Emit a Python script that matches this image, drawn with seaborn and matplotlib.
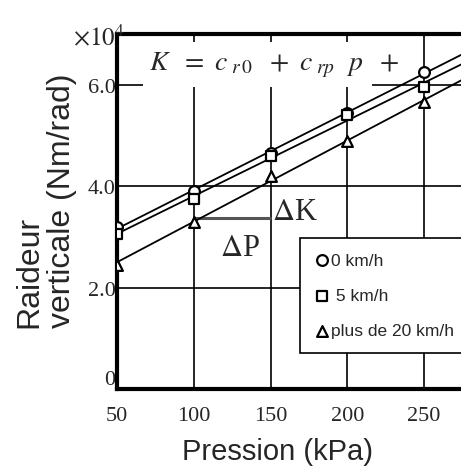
import numpy as np
import pandas as pd
import matplotlib
matplotlib.use("Agg")
import matplotlib.pyplot as plt
import matplotlib.patches as mpatches
import seaborn as sns

# data (K in units of 10^4 Nm/rad)
pression = [50, 100, 150, 200, 250]
k_0kmh = [3.20, 3.90, 4.65, 5.45, 6.25]
k_5kmh = [3.05, 3.75, 4.60, 5.40, 5.95]
k_20kmh = [2.45, 3.30, 4.20, 4.90, 5.65]
series_names = ["0 km/h", " 5 km/h", "plus de 20 km/h"]
series_markers = ["o", "s", "^"]
x_ticks = [50, 100, 150, 200, 250]
y_ticks = [0, 2, 4, 6]
y_tick_labels = ["0", "2.0", "4.0", "6.0"]

df = pd.DataFrame({"pression": pression * 3,
                   "K": k_0kmh + k_5kmh + k_20kmh,
                   "vitesse": sum([[n] * len(pression) for n in series_names], [])})

sns.set_style("white")
serif = ["Liberation Serif", "DejaVu Serif"]
sans = ["Liberation Sans", "DejaVu Sans"]
plt.rcParams["mathtext.fontset"] = "stix"

fig = plt.figure(figsize=(4.61, 4.77), dpi=100)
ax = fig.add_axes([117 / 461, 1 - 390 / 477, (461 - 117) / 461, 355 / 477])
ax.set_xlim(50, 274)
ax.set_ylim(0, 7.0)

# grid
for xv in x_ticks[1:]:
    ax.axvline(xv, color="black", lw=1.2, zorder=1)
for yv in y_ticks[1:]:
    ax.axhline(yv, color="black", lw=1.2, zorder=1)

# fitted lines through each series
xfit = np.array([50, 280])
for name in series_names:
    sub = df[df["vitesse"] == name]
    a, b = np.polyfit(sub["pression"], sub["K"], 1)
    sns.lineplot(x=xfit, y=a * xfit + b, color="black", lw=1.3, ax=ax, zorder=3)

for name, m in zip(series_names, series_markers):
    sub = df[df["vitesse"] == name]
    sns.scatterplot(data=sub, x="pression", y="K", marker=m, s=60, color="white",
                    edgecolor="black", linewidth=1.6, label=name, ax=ax, zorder=4)

# delta annotation
ax.hlines(3.38, 100, 150, color="#555555", lw=2.2, zorder=2)
ax.text(151, 3.22, r"$\Delta$K", family=serif, fontsize=22, ha="left", va="bottom", zorder=5)
ax.text(117, 2.5, r"$\Delta$P", family=serif, fontsize=22, ha="left", va="bottom", zorder=5)

# equation box
rect = mpatches.Rectangle((0.0756, 0.851), 0.666, 0.127, transform=ax.transAxes,
                          facecolor="white", edgecolor="none", zorder=6)
ax.add_patch(rect)
eq = ax.text(0.094, 0.899, r"$K\ \ =\ c_{\ r\,0}\ \ +\ c_{\ rp}\ \ p\ \ +$", transform=ax.transAxes,
             fontsize=20, ha="left", va="baseline", zorder=7)
eq.set_clip_path(rect)

# axes styling
for side in ["left", "bottom", "top"]:
    ax.spines[side].set_linewidth(3)
    ax.spines[side].set_color("black")
ax.spines["right"].set_visible(False)
ax.set_xticks(x_ticks)
ax.set_xticklabels([str(v) for v in x_ticks], family=serif, fontsize=16)
ax.set_yticks(y_ticks)
ax.set_yticklabels(y_tick_labels, family=serif, fontsize=16)
ax.tick_params(axis="x", length=0, pad=12)
ax.tick_params(axis="y", length=0, pad=1)
ax.get_yticklabels()[0].set_verticalalignment("bottom")
ax.set_xlabel("")
ax.set_ylabel("")

fig.text(73 / 461, 1 - 45 / 477, r"$\times10^4$", fontsize=18, ha="left", va="baseline")
fig.text(46 / 461, 1 - 328 / 477, "Raideur\nverticale (Nm/rad)", family=sans, fontsize=23,
         rotation=90, ha="center", va="bottom", multialignment="left", linespacing=1.1)
fig.text(277 / 461, 1 - 452 / 477, "Pression (kPa)", family=sans, fontsize=21,
         ha="center", va="center")

leg = ax.legend(loc="upper left", bbox_to_anchor=(0.532, 0.425), borderaxespad=0,
                frameon=True, fancybox=False, edgecolor="black", framealpha=1,
                prop={"family": sans, "size": 12.5}, handletextpad=0.15,
                handlelength=0.8, labelspacing=1.15, borderpad=0.85)
leg.get_frame().set_linewidth(1.2)
leg.set_zorder(8)

fig.savefig("out.png", dpi=100)
